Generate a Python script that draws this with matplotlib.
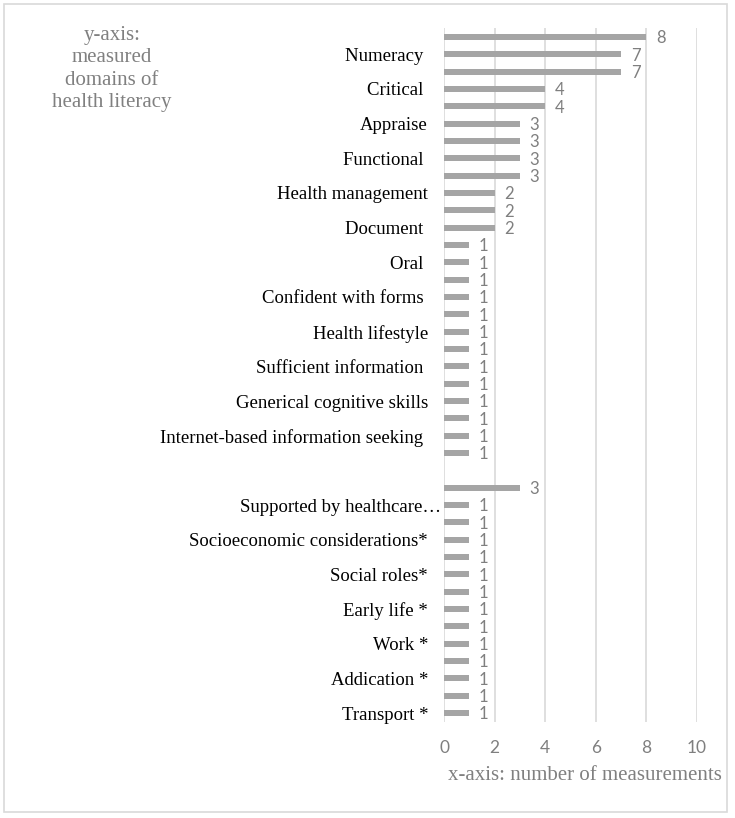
import matplotlib
matplotlib.use("Agg")
import matplotlib.pyplot as plt
import matplotlib.transforms as mtransforms
from matplotlib.patches import Rectangle
import numpy as np

# Categories listed top-to-bottom (empty strings = labels Excel skipped)
categories = [
    "", "Numeracy ", "", "Critical ", "", "Appraise", "", "Functional ", "",
    "Health management", "", "Document ", "", "Oral ", "", "Confident with forms ",
    "", "Health lifestyle", "", "Sufficient information ", "",
    "Generical cognitive skills", "", "Internet-based information seeking ", "",
    "", "", "Supported by healthcare…", "", "Socioeconomic considerations*", "",
    "Social roles*", "", "Early life *", "", "Work *", "", "Addication *", "",
    "Transport *",
]
# Values top-to-bottom (None = empty separator row)
values = [
    8, 7, 7, 4, 4, 3, 3, 3, 3, 2, 2, 2,
    1, 1, 1, 1, 1, 1, 1, 1, 1, 1, 1, 1, 1,
    None,
    3, 1, 1, 1, 1, 1, 1, 1, 1, 1, 1, 1, 1, 1,
]
x_ticks = [0, 2, 4, 6, 8, 10]

BAR = "#a5a5a5"
GRID = "#d9d9d9"
GRAYTXT = "#808080"
SERIF = "Liberation Serif"
SANS = "Lato"

fig = plt.figure(figsize=(7.35, 8.18), dpi=100)
fig.patches.append(Rectangle((4 / 735, 1 - 812 / 818), 723 / 735, 808 / 818,
                             transform=fig.transFigure, fill=False,
                             edgecolor=GRID, linewidth=1.2))

ax = fig.add_axes([444 / 735, 1 - 721.7 / 818, (697 - 444) / 735, (721.7 - 28.3) / 818])

n = len(categories)
ypos = np.arange(n)[::-1]  # top category at highest y
vals = np.array([np.nan if v is None else v for v in values], dtype=float)

ax.barh(ypos, np.nan_to_num(vals), height=0.34, color=BAR, zorder=3)
for y, v in zip(ypos, vals):
    if not np.isnan(v):
        ax.annotate(f"{int(v)}", (v, y), xytext=(7, -1), textcoords="offset points",
                    ha="left", va="center", fontsize=12, color="#7f7f7f",
                    family=SANS, annotation_clip=False)

ax.set_xlim(0, 10)
ax.set_ylim(-0.5, n - 0.5)
ax.set_xticks(x_ticks)
ax.set_xticklabels([str(t) for t in x_ticks], family=SANS, fontsize=12.5, color="#7f7f7f")
ax.tick_params(axis="x", length=0, pad=13)
ax.set_yticks(ypos)
ax.set_yticklabels(categories, family=SANS)
ax.tick_params(axis="y", length=0, pad=11.5)
for lab in ax.get_yticklabels():
    lab.set_fontfamily(SERIF)
    lab.set_fontsize(13.5)
    lab.set_color("black")
    if lab.get_text().endswith("…"):
        lab.set_transform(lab.get_transform() + mtransforms.ScaledTranslation(13 / 100, 0, fig.dpi_scale_trans))

ax.grid(axis="x", color=GRID, linewidth=1.2, zorder=0)
for s in ax.spines.values():
    s.set_visible(False)

fig.text(112 / 735, 1 - 26 / 818, "y-axis:\nmeasured\ndomains of\nhealth literacy",
         ha="center", va="top", family=SERIF, fontsize=15, color=GRAYTXT,
         linespacing=1.24)
fig.text(722 / 735, 1 - 775 / 818, "x-axis: number of measurements",
         ha="right", va="center", family=SERIF, fontsize=15, color=GRAYTXT)

fig.savefig("out.png", dpi=100)
